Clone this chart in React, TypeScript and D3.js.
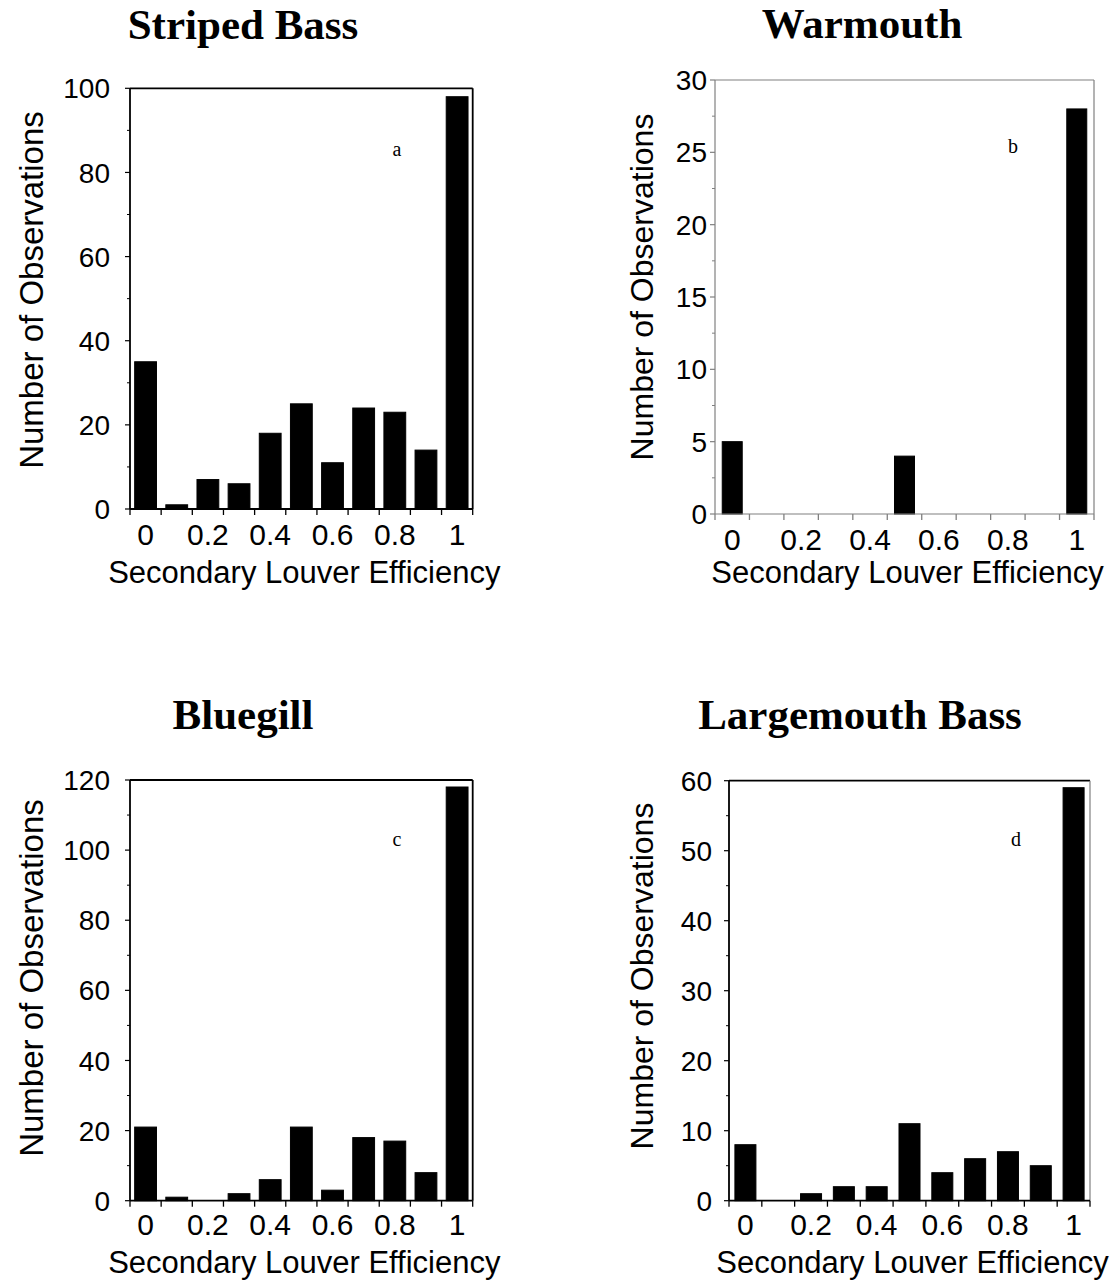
import React from "react";
import * as d3 from "d3";

// ---- data ----
const categories = ["0", "0.1", "0.2", "0.3", "0.4", "0.5", "0.6", "0.7", "0.8", "0.9", "1"];
const xTickLabels = ["0", "0.2", "0.4", "0.6", "0.8", "1"];

const stripedBass: (number | null)[] = [35, 1, 7, 6, 18, 25, 11, 24, 23, 14, 98];
const warmouth: (number | null)[] = [5, null, null, null, null, 4, null, null, null, null, 28];
const bluegill: (number | null)[] = [21, 1, 0, 2, 6, 21, 3, 18, 17, 8, 118];
const largemouthBass: (number | null)[] = [8, 0, 1, 2, 2, 11, 4, 6, 7, 5, 59];

const speciesTitles = ["Striped Bass", "Warmouth", "Bluegill", "Largemouth Bass"];
const panelLetters = ["a", "b", "c", "d"];
const yMaxes = [100, 30, 120, 60];
const yMajorSteps = [20, 5, 20, 10];
const yMinorSteps = [10, 2.5, 10, 5];

const xTitle = "Secondary Louver Efficiency";
const yTitle = "Number of Observations";

type Layout = {
  left: number; right: number; top: number; bottom: number;
  titleX: number; titleY: number;
  letterX: number; letterY: number;
  yTitleX: number; yTitleY: number; yTitleSize: number;
  yTickX: number; xTickY: number; xTitleY: number;
  pad: number; axis: string; frameTop: string; frameRight: string;
};

const layouts: Layout[] = [
  { left: 130, right: 472.7, top: 88.3, bottom: 509, titleX: 243, titleY: 39, letterX: 397, letterY: 156,
    yTitleX: 43, yTitleY: 290, yTitleSize: 33, yTickX: 110, xTickY: 545, xTitleY: 583, pad: 0.3,
    axis: "#000", frameTop: "#000", frameRight: "#000" },
  { left: 715, right: 1094, top: 80, bottom: 514, titleX: 862, titleY: 38, letterX: 1013, letterY: 153,
    yTitleX: 653, yTitleY: 287, yTitleSize: 32, yTickX: 707, xTickY: 550, xTitleY: 583, pad: 0.42,
    axis: "#808080", frameTop: "#808080", frameRight: "#808080" },
  { left: 130, right: 472.7, top: 780, bottom: 1200.7, titleX: 243, titleY: 729, letterX: 397, letterY: 846,
    yTitleX: 43, yTitleY: 978, yTitleSize: 33, yTickX: 110, xTickY: 1235, xTitleY: 1273, pad: 0.3,
    axis: "#000", frameTop: "#000", frameRight: "#000" },
  { left: 729, right: 1090, top: 780.7, bottom: 1200.7, titleX: 860, titleY: 729, letterX: 1016, letterY: 846,
    yTitleX: 653, yTitleY: 976, yTitleSize: 32, yTickX: 712, xTickY: 1235, xTitleY: 1273, pad: 0.36,
    axis: "#000", frameTop: "#000", frameRight: "#808080" },
];

const seriesList = [stripedBass, warmouth, bluegill, largemouthBass];

const SANS = "'Liberation Sans', Arial, sans-serif";
const SERIF = "'Liberation Serif', 'Times New Roman', serif";

function Panel({ idx }: { idx: number }) {
  const L = layouts[idx];
  const values = seriesList[idx];
  const yMax = yMaxes[idx];
  const x = d3.scaleBand<string>().domain(categories).range([L.left, L.right]).paddingInner(L.pad).paddingOuter(L.pad / 2);
  const xb = d3.scaleBand<string>().domain(categories).range([L.left, L.right]).padding(0);
  const y = d3.scaleLinear().domain([0, yMax]).range([L.bottom, L.top]);
  const majors = d3.range(0, yMax + 0.001, yMajorSteps[idx]);
  const minors = d3.range(0, yMax + 0.001, yMinorSteps[idx]).filter((v) => !majors.some((m) => Math.abs(m - v) < 1e-6));
  const boundaries = categories.map((c) => xb(c) as number).concat([L.right]);
  const sw = L.axis === "#000" ? 1.8 : 1.2;

  return (
    <g>
      <text x={L.titleX} y={L.titleY} textAnchor="middle" fontFamily={SERIF} fontWeight="bold" fontSize={43}>
        {speciesTitles[idx]}
      </text>
      {values.map((v, i) =>
        v === null ? null : (
          <rect
            key={i}
            x={x(categories[i])}
            y={y(v)}
            width={x.bandwidth()}
            height={Math.max(0, y(0) - y(v))}
            fill="#000"
            stroke="#000"
            strokeWidth={1}
          />
        )
      )}
      <line x1={L.left} x2={L.right} y1={L.top} y2={L.top} stroke={L.frameTop} strokeWidth={sw} />
      <line x1={L.right} x2={L.right} y1={L.top} y2={L.bottom} stroke={L.frameRight} strokeWidth={L.frameRight === "#000" ? 1.8 : 1.2} />
      <line x1={L.left} x2={L.left} y1={L.top} y2={L.bottom} stroke={L.axis} strokeWidth={sw} />
      {majors.map((m) => (
        <g key={"M" + m}>
          <line x1={L.left - 5} x2={L.left} y1={y(m)} y2={y(m)} stroke={L.axis} strokeWidth={1.2} />
          <text x={L.yTickX} y={y(m)} dy="0.36em" textAnchor="end" fontFamily={SANS} fontSize={28}>
            {m}
          </text>
        </g>
      ))}
      {minors.map((m) => (
        <line key={"m" + m} x1={L.left - 3} x2={L.left} y1={y(m)} y2={y(m)} stroke={L.axis} strokeWidth={1} />
      ))}
      <line x1={L.left} x2={L.right} y1={L.bottom} y2={L.bottom} stroke={L.axis} strokeWidth={sw} />
      {boundaries.map((bx, i) => (
        <line key={"t" + i} x1={bx} x2={bx} y1={L.bottom} y2={L.bottom + 6} stroke={L.axis} strokeWidth={1.3} />
      ))}
      {xTickLabels.map((lab) => (
        <text
          key={lab}
          x={(xb(lab) as number) + xb.bandwidth() / 2}
          y={L.xTickY}
          textAnchor="middle"
          fontFamily={SANS}
          fontSize={30}
        >
          {lab}
        </text>
      ))}
      <text x={(L.left + L.right) / 2 + 3} y={L.xTitleY} textAnchor="middle" fontFamily={SANS} fontSize={31}>
        {xTitle}
      </text>
      <text
        transform={`translate(${L.yTitleX},${L.yTitleY}) rotate(-90)`}
        textAnchor="middle"
        fontFamily={SANS}
        fontSize={L.yTitleSize}
      >
        {yTitle}
      </text>
      <text x={L.letterX} y={L.letterY} textAnchor="middle" fontFamily={SERIF} fontSize={20}>
        {panelLetters[idx]}
      </text>
    </g>
  );
}

export default function App() {
  return (
    <svg
      width={1120}
      height={1281}
      viewBox="0 0 1120 1281"
      style={{ position: "absolute", left: 0, top: 0, background: "#fff" }}
    >
      <rect x={0} y={0} width={1120} height={1281} fill="#fff" />
      {[0, 1, 2, 3].map((i) => (
        <Panel key={i} idx={i} />
      ))}
    </svg>
  );
}
